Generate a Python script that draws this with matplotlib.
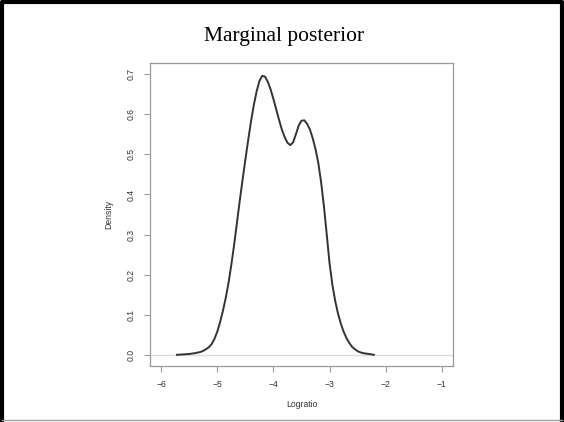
import matplotlib
matplotlib.use("Agg")
import matplotlib.pyplot as plt
from matplotlib.lines import Line2D

plt.rcParams.update({
    "font.family": "Liberation Sans",
    "font.size": 6,
})

# density curve (Logratio, Density)
logratio = [-5.72, -5.6, -5.5, -5.4, -5.3, -5.25, -5.2, -5.15, -5.1, -5.05,
            -5.0, -4.95, -4.9, -4.85, -4.8, -4.75, -4.7, -4.65, -4.6, -4.55,
            -4.5, -4.45, -4.4, -4.35, -4.3, -4.25, -4.2, -4.15, -4.1, -4.05,
            -4.0, -3.95, -3.9, -3.85, -3.8, -3.75, -3.7, -3.65, -3.6, -3.55,
            -3.5, -3.45, -3.4, -3.35, -3.3, -3.25, -3.2, -3.15, -3.1, -3.05,
            -3.0, -2.95, -2.9, -2.85, -2.8, -2.75, -2.7, -2.65, -2.6, -2.55,
            -2.5, -2.45, -2.4, -2.3, -2.21]
density = [0.000, 0.001, 0.002, 0.004, 0.007, 0.010, 0.014, 0.019, 0.027, 0.040,
           0.058, 0.082, 0.110, 0.142, 0.180, 0.225, 0.275, 0.330, 0.385, 0.437,
           0.487, 0.536, 0.582, 0.623, 0.657, 0.683, 0.696, 0.694, 0.681, 0.662,
           0.638, 0.612, 0.586, 0.562, 0.543, 0.529, 0.523, 0.530, 0.550, 0.572,
           0.584, 0.585, 0.576, 0.562, 0.540, 0.513, 0.478, 0.430, 0.370, 0.300,
           0.228, 0.175, 0.135, 0.103, 0.078, 0.058, 0.042, 0.030, 0.020, 0.014,
           0.009, 0.006, 0.004, 0.002, 0.000]

xticks = [-6, -5, -4, -3, -2, -1]
yticks = [0.0, 0.1, 0.2, 0.3, 0.4, 0.5, 0.6, 0.7]

fig = plt.figure(figsize=(5.64, 4.22), dpi=100)

# slide frame: black on left/top/right, thin grey at the bottom
fig.lines.append(Line2D([0.004, 0.004, 0.996, 0.996], [0.003, 0.995, 0.995, 0.003],
                        transform=fig.transFigure, color="black", linewidth=3))
fig.lines.append(Line2D([0.004, 0.996], [0.004, 0.004], transform=fig.transFigure,
                        color="#a0a0a0", linewidth=1))

ax = fig.add_axes([150 / 564, 1 - 366 / 422, 303 / 564, 303 / 422])
ax.axhline(0, color="#dcdcdc", linewidth=1, zorder=1)
ax.plot(logratio, density, color="#333333", linewidth=1.4, zorder=2)

ax.set_xlim(-6.2, -0.8)
ax.set_ylim(-0.028, 0.728)
ax.set_xticks(xticks)
ax.set_xticklabels(["\u22126", "\u22125", "\u22124", "\u22123", "\u22122", "\u22121"])
ax.set_yticks(yticks)
ax.set_yticklabels(["%.1f" % v for v in yticks], rotation=90, va="center")

for s in ax.spines.values():
    s.set_color("#9a9a9a")
    s.set_linewidth(0.9)
ax.tick_params(colors="#9a9a9a", labelcolor="#333333", length=4, width=0.8,
               labelsize=6.2, pad=6)

ax.set_xlabel("Logratio", fontsize=6.2, color="#333333", labelpad=8)
ax.set_ylabel("Density", fontsize=6.2, color="#333333", labelpad=10)

fig.text(0.5035, 1 - 41 / 422, "Marginal posterior", family="Liberation Serif",
         fontsize=15.5, ha="center", va="baseline")

fig.savefig("out.png", dpi=100)
